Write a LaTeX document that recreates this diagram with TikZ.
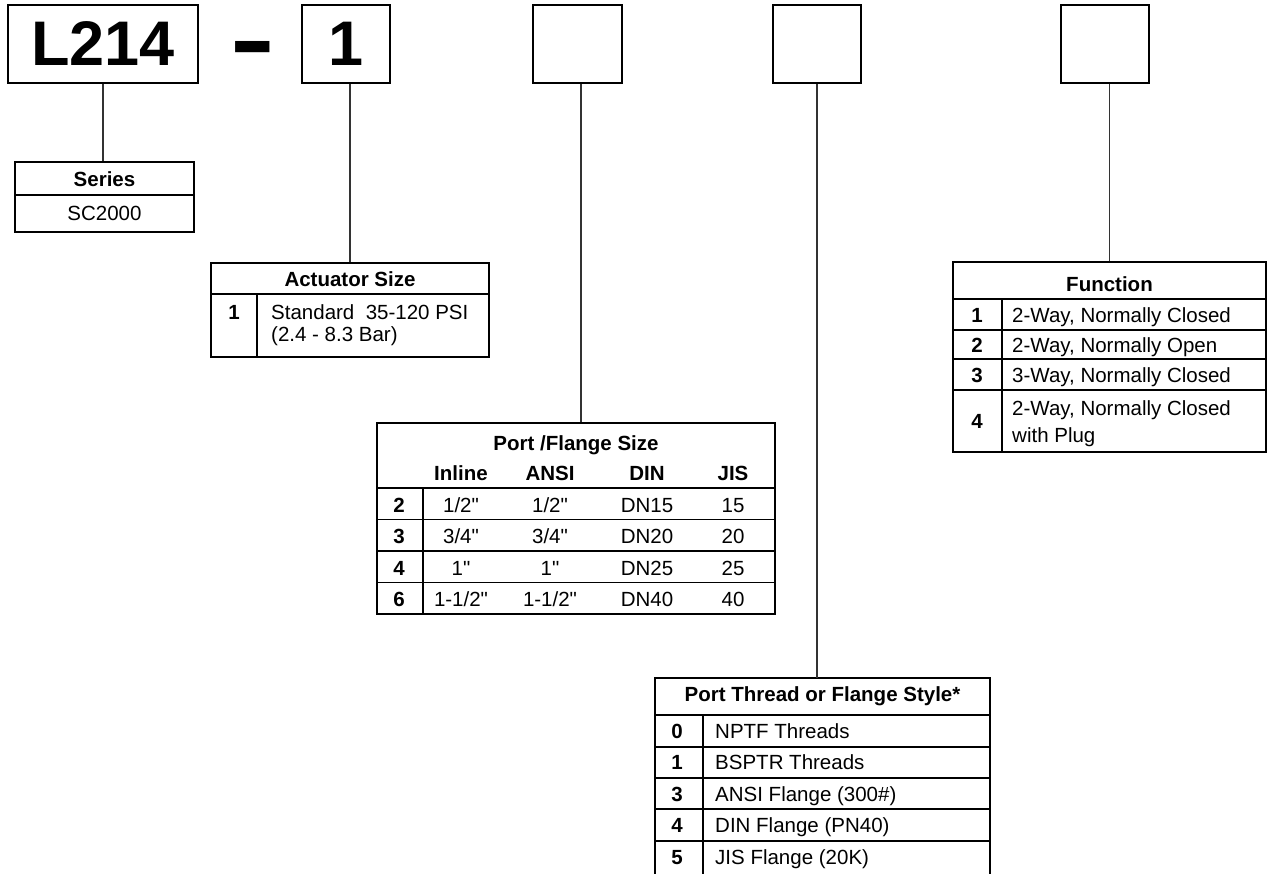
\documentclass[tikz,border=0pt]{standalone}
\usepackage{fontspec}
\setmainfont{Liberation Sans}[Ligatures=TeXOff]
\begin{document}
\begin{tikzpicture}[x=1pt,y=-1pt,
  topbox/.style={draw, line width=2.6pt, minimum width=#1, minimum height=78pt, inner sep=0pt},
  big/.style={font=\bfseries\fontsize{63}{63}\selectfont, inner sep=0pt},
  tbl/.style={draw, line width=1.2pt, inner sep=0pt},
  thin/.style={line width=1.2pt},
  hdr/.style={line width=2.2pt},
  conn/.style={line width=1.4pt, black!80},
  tx/.style={font=\fontsize{20.5}{24}\selectfont, text height=14.7pt, text depth=0pt, inner sep=0pt},
  hb/.style={font=\bfseries\fontsize{20.5}{24}\selectfont, text height=14.7pt, text depth=0pt, inner sep=0pt},
  tl/.style={tx, anchor=west},
]
\useasboundingbox (0,0) rectangle (1268,874);

% ---- top code boxes
\node[topbox=190pt, big] (b1) at (103,44) {L214};
\node[big, text height=32pt, text depth=0pt, xscale=1.1, yscale=1.8] (dash) at (253,49) {–};
\node[topbox=88pt, big] (b2) at (346,44) {1};
\node[topbox=89pt] (b3) at (577.5,44) {};
\node[topbox=88pt] (b4) at (817,44) {};
\node[topbox=88pt] (b5) at (1105,44) {};

% ---- Series
\node[tbl, minimum width=179pt, minimum height=70pt] (ser) at (104.5,197) {};
\draw[hdr] (ser.west |- 0,195) -- (ser.east |- 0,195);
\node[hb] (serh) at (104.5,179) {Series};
\node[tx] (serv) at (104.5,213) {SC2000};

% ---- Actuator Size
\node[tbl, minimum width=278pt, minimum height=94pt] (act) at (350,310) {};
\draw[hdr] (act.west |- 0,294) -- (act.east |- 0,294);
\draw[thin] (257,294) -- (act.south -| 257,0);
\node[hb] (acth) at (350,279) {Actuator Size};
\node[hb] (act1) at (234,312) {1};
\node[tl] (act1a) at (271,312) {Standard\ \ 35-120 PSI};
\node[tl] (act1b) at (271,334) {(2.4 - 8.3 Bar)};

% ---- Port / Flange Size
\node[tbl, minimum width=398pt, minimum height=191pt] (pf) at (576,518.5) {};
\draw[hdr] (pf.west |- 0,488) -- (pf.east |- 0,488);
\foreach \yy in {519.5,551,582.5} \draw[thin] (pf.west |- 0,\yy) -- (pf.east |- 0,\yy);
\draw[thin] (423,488) -- (pf.south -| 423,0);
\node[hb] (pfh) at (576,443) {Port /Flange Size};
\node[hb] (pfc1) at (461,473) {Inline};
\node[hb] (pfc2) at (550,473) {ANSI};
\node[hb] (pfc3) at (647,473) {DIN};
\node[hb] (pfc4) at (733,473) {JIS};
\foreach \k/\a/\b/\c/\d/\yy in {2/1\slash 2"/1\slash 2"/DN15/15/505,
                                3/3\slash 4"/3\slash 4"/DN20/20/536,
                                4/1"/1"/DN25/25/568,
                                6/1-1\slash 2"/1-1\slash 2"/DN40/40/599}{
  \node[hb] (pfr\k) at (399,\yy) {\k};
  \node[tx] (pfa\k) at (461,\yy) {\a};
  \node[tx] (pfb\k) at (550,\yy) {\b};
  \node[tx] (pfd\k) at (647,\yy) {\c};
  \node[tx] (pfj\k) at (733,\yy) {\d};
}

% ---- Function
\node[tbl, minimum width=313pt, minimum height=190pt] (fn) at (1109.5,357) {};
\draw[hdr] (fn.west |- 0,299) -- (fn.east |- 0,299);
\foreach \yy in {330,359,390} \draw[thin] (fn.west |- 0,\yy) -- (fn.east |- 0,\yy);
\draw[thin] (1002,299) -- (fn.south -| 1002,0);
\node[hb] (fnh) at (1109.5,284) {Function};
\node[hb] (fn1) at (977,315) {1};
\node[tl] (fn1t) at (1012,315) {2-Way, Normally Closed};
\node[hb] (fn2) at (977,345) {2};
\node[tl] (fn2t) at (1012,345) {2-Way, Normally Open};
\node[hb] (fn3) at (977,375) {3};
\node[tl] (fn3t) at (1012,375) {3-Way, Normally Closed};
\node[hb] (fn4) at (977,421) {4};
\node[tl] (fn4t) at (1012,408) {2-Way, Normally Closed};
\node[tl] (fn4u) at (1012,435) {with Plug};

% ---- Port Thread or Flange Style (open at the bottom)
\coordinate (ptnw) at (655,678);
\coordinate (ptne) at (990,678);
\coordinate (ptn) at (822.5,678);
\draw[line width=1.2pt] (655,874) -- (ptnw) -- (ptne) -- (990,874);
\draw[hdr] (655,715) -- (990,715);
\foreach \yy in {747,778,809,841} \draw[thin] (655,\yy) -- (990,\yy);
\draw[thin] (703,715) -- (703,874);
\node[hb] (pth) at (822.5,694) {Port Thread or Flange Style*};
\foreach \k/\t/\yy in {0/NPTF Threads/731, 1/BSPTR Threads/762, 3/ANSI Flange (300\#)/794,
                      4/DIN Flange (PN40)/825, 5/JIS Flange (20K)/857}{
  \node[hb] (ptr\k) at (677,\yy) {\k};
  \node[tl] (ptt\k) at (715,\yy) {\t};
}

% ---- connectors
\draw[conn] (b1.south) -- (b1.south |- ser.north);
\draw[conn] (act.north) -- (act.north |- b2.south);
\draw[conn] (581,0 |- b3.south) -- (581,0 |- pf.north);
\draw[conn] (b4.south) -- (b4.south |- ptn);
\draw[conn] (fn.north) -- (fn.north |- b5.south);
\end{tikzpicture}
\end{document}
